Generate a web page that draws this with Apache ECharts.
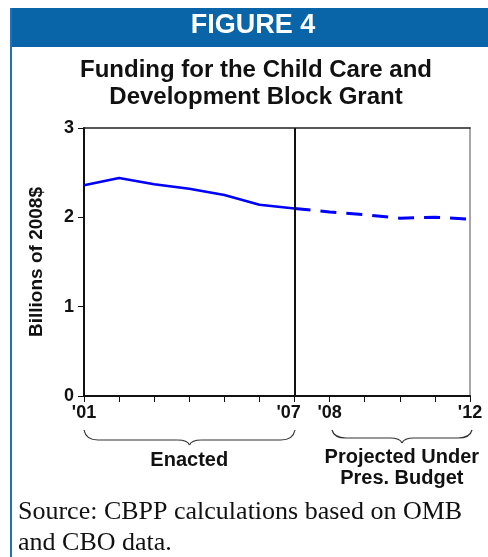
<!DOCTYPE html>
<html>
<head>
<meta charset="utf-8">
<script src="https://cdn.jsdelivr.net/npm/echarts@6/dist/echarts.min.js"></script>
<style>
  html, body { margin: 0; padding: 0; background: #fff; }
  #chart { width: 488px; height: 557px; }
</style>
</head>
<body>
<div id="chart"></div>
<script>
// Fiscal years shown on the axis
const years = ['01', '02', '03', '04', '05', '06', '07', '08', '09', '10', '11', '12'];
// Years that get a printed label
const labeledYears = ['01', '07', '08', '12'];
// Enacted funding, billions of 2008 dollars ('01-'07)
const enacted = [2.36, 2.44, 2.37, 2.32, 2.25, 2.14, 2.10, null, null, null, null, null];
// Projected funding under the President's budget ('07-'12)
const projected = [null, null, null, null, null, null, 2.10, 2.06, 2.03, 1.99, 2.00, 1.98];
// Y-axis range
const yMin = 0, yMax = 3, yStep = 1;

const SANS = '"Liberation Sans", Arial, Helvetica, sans-serif';
const SERIF = '"Liberation Serif", "Times New Roman", serif';
const BLUE = '#0a65a8';

const chart = echarts.init(document.getElementById('chart'), null, { renderer: 'canvas' });

const option = {
  animation: false,
  backgroundColor: '#fff',
  grid: { left: 84, right: 18, top: 128, bottom: 161, containLabel: false, outerBoundsMode: 'none' },
  xAxis: [
    {
      type: 'category',
      data: years,
      boundaryGap: false,
      axisLine: { onZero: false, lineStyle: { color: '#111', width: 2 } },
      axisTick: { show: true, inside: false, length: 6, interval: 0, lineStyle: { color: '#111', width: 1 } },
      axisLabel: {
        interval: 0,
        margin: 8,
        formatter: function (v) {
          if (labeledYears.indexOf(v) < 0) return '';
          if (v === '07') return '{l|\'' + v + '}';
          return '{c|\'' + v + '}';
        },
        rich: {
          c: { fontFamily: SANS, fontWeight: 'bold', fontSize: 18, color: '#111' },
          l: { fontFamily: SANS, fontWeight: 'bold', fontSize: 18, color: '#111', padding: [0, 12, 0, 0] }
        }
      },
      splitLine: { show: false }
    },
    {
      type: 'category',
      data: years,
      boundaryGap: false,
      position: 'top',
      axisLine: { show: true, onZero: false, lineStyle: { color: '#222', width: 1.5 } },
      axisTick: { show: false },
      axisLabel: { show: false },
      splitLine: { show: false }
    }
  ],
  yAxis: [
    {
      type: 'value',
      min: yMin,
      max: yMax,
      interval: yStep,
      name: 'Billions of 2008$',
      nameLocation: 'middle',
      nameGap: 38,
      nameRotate: 90,
      nameTextStyle: { fontFamily: SANS, fontWeight: 'bold', fontSize: 19, color: '#111' },
      axisLine: { show: true, onZero: false, lineStyle: { color: '#111', width: 2 } },
      axisTick: { show: true, inside: false, length: 6, lineStyle: { color: '#111', width: 1 } },
      axisLabel: { margin: 10, fontFamily: SANS, fontWeight: 'bold', fontSize: 18, color: '#111' },
      splitLine: { show: false }
    },
    {
      type: 'value',
      min: yMin,
      max: yMax,
      interval: yStep,
      position: 'right',
      axisLine: { show: true, onZero: false, lineStyle: { color: '#888', width: 1.5 } },
      axisTick: { show: false },
      axisLabel: { show: false },
      splitLine: { show: false }
    }
  ],
  series: [
    {
      name: 'Enacted',
      type: 'line',
      data: enacted,
      showSymbol: false,
      symbol: 'none',
      lineStyle: { color: '#0000ff', width: 2.5 },
      z: 3,
      markLine: {
        silent: true,
        symbol: ['none', 'none'],
        label: { show: false },
        lineStyle: { color: '#111', width: 2, type: 'solid' },
        data: [{ xAxis: '07' }]
      }
    },
    {
      name: 'Projected',
      type: 'line',
      data: projected,
      showSymbol: false,
      symbol: 'none',
      lineStyle: { color: '#0000ff', width: 3, type: [16, 10] },
      z: 3
    }
  ]
};

chart.setOption(option);

// Curly brace under a span of years: curved ends, straight runs, pointed middle
function brace(x1, x2, yTop, yLine, yTip) {
  const xm = (x1 + x2) / 2;
  const st = { fill: null, stroke: '#333', lineWidth: 1.2 };
  const curve = function (ax, ay, bx, by, cx, cy) {
    return { type: 'bezierCurve', z: 11, shape: { x1: ax, y1: ay, x2: bx, y2: by, cpx1: cx, cpy1: cy }, style: st };
  };
  const seg = function (ax, bx) {
    return { type: 'line', z: 11, shape: { x1: ax, y1: yLine, x2: bx, y2: yLine }, style: st };
  };
  return [
    curve(x1, yTop, x1 + 14, yLine, x1 + 2, yLine),
    seg(x1 + 14, xm - 12),
    curve(xm - 12, yLine, xm, yTip, xm - 2, yLine),
    curve(xm, yTip, xm + 12, yLine, xm + 2, yLine),
    seg(xm + 12, x2 - 14),
    curve(x2 - 14, yLine, x2, yTop, x2 - 2, yLine)
  ];
}

const px = function (y) { return chart.convertToPixel({ xAxisIndex: 0 }, y); };
const xA1 = px('01'), xA2 = px('07'), xB1 = px('08'), xB2 = px('12');

const graphics = [
  // header band
  { type: 'rect', x: 10, y: 8, shape: { width: 478, height: 39 }, style: { fill: BLUE }, z: 10 },
  // left frame rule
  { type: 'rect', x: 10, y: 8, shape: { width: 2, height: 549 }, style: { fill: '#1f72b8' }, z: 10 },
  {
    type: 'text', x: 253, y: 12, z: 11,
    style: { text: 'FIGURE 4', fill: '#fff', font: 'bold 27px ' + SANS, textAlign: 'center' }
  },
  {
    type: 'text', x: 256, y: 57, z: 11,
    style: {
      text: 'Funding for the Child Care and\nDevelopment Block Grant',
      fill: '#111', font: 'bold 24px ' + SANS, textAlign: 'center', lineHeight: 27
    }
  },
  {
    type: 'text', x: (xA1 + xA2) / 2, y: 450, z: 11,
    style: { text: 'Enacted', fill: '#111', font: 'bold 20px ' + SANS, textAlign: 'center' }
  },
  {
    type: 'text', x: (xB1 + xB2) / 2 + 2, y: 447, z: 11,
    style: { text: 'Projected Under\nPres. Budget', fill: '#111', font: 'bold 20px ' + SANS, textAlign: 'center', lineHeight: 21 }
  },
  {
    type: 'text', x: 18, y: 497, z: 11,
    style: {
      text: 'Source: CBPP calculations based on OMB\nand CBO data.',
      fill: '#111', font: '26px ' + SERIF, textAlign: 'left', lineHeight: 31
    }
  }
].concat(
  brace(Math.round(xA1), Math.round(xA2), 430, 440, 445),
  brace(Math.round(xB1) + 2, Math.round(xB2) + 2, 430, 438, 443)
);

chart.setOption({ graphic: graphics });
</script>
</body>
</html>
